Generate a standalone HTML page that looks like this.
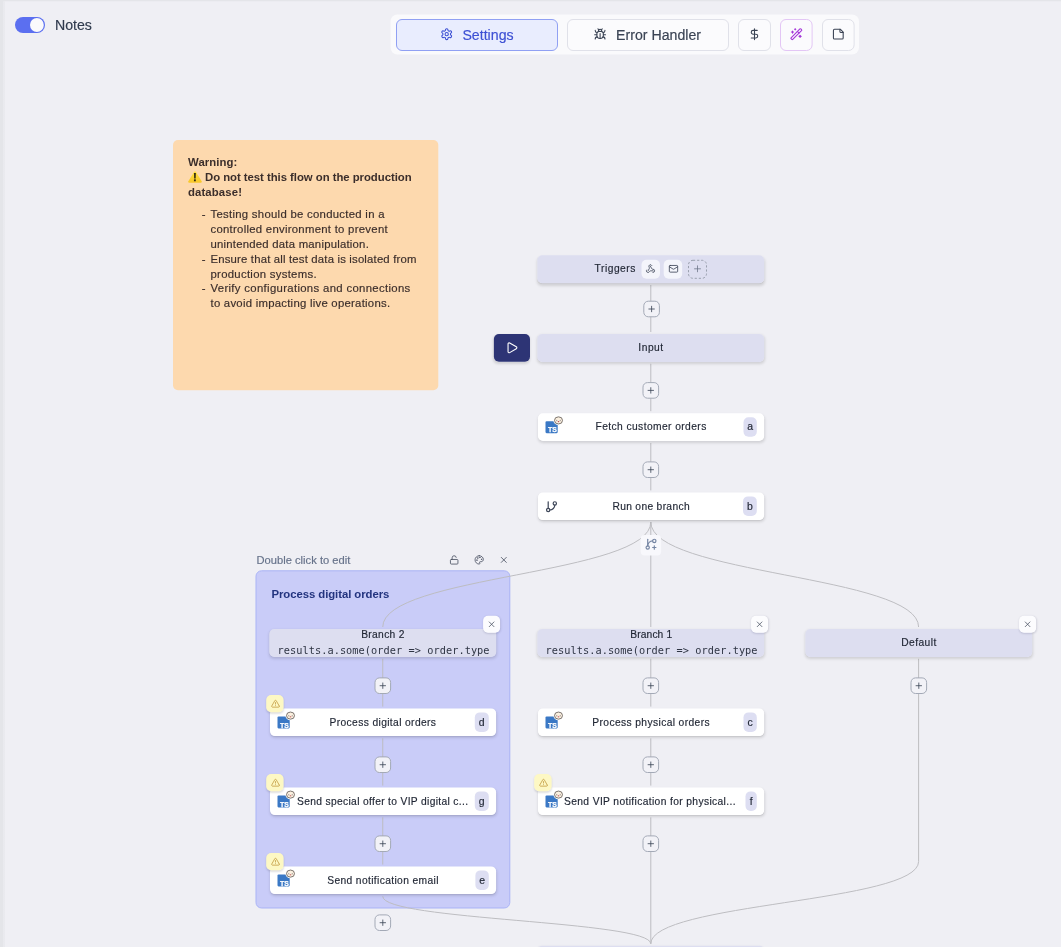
<!DOCTYPE html>
<html lang="en">
<head>
<meta charset="utf-8">
<title>Flow editor</title>
<style>
*{box-sizing:border-box;margin:0;padding:0}
html,body{width:1061px;height:947px;overflow:hidden}
body{background:#efeff4;font-family:"Liberation Sans",sans-serif;color:#1f2533;position:relative}
#wrap{position:absolute;left:0;top:0;width:1061px;height:947px;overflow:hidden;will-change:transform}
#app{position:absolute;left:0;top:0;transform:scale(.1);transform-origin:0 0}

#app{width:10610px;height:9470px}
.abs{position:absolute}
svg{display:block;overflow:visible}
.ic{fill:none;stroke:currentColor;stroke-linecap:round;stroke-linejoin:round}
.t{position:absolute;white-space:pre;-webkit-text-stroke:1.7px currentColor}
.edge-top{left:0;top:0;width:10610px;height:20px;background:linear-gradient(to bottom,#e4e5e9 0,#e4e5e9 50%,rgba(228,229,233,.35) 60%,rgba(228,229,233,0) 100%)}
.edge-left{left:0;top:0;width:50px;height:9470px;background:linear-gradient(to right,#e4e5e9 0,#e4e5e9 52%,rgba(228,229,233,.5) 60%,rgba(228,229,233,.4) 92%,rgba(228,229,233,0) 100%)}
.toggle{left:150px;top:170px;width:300px;height:160px;border-radius:80px;background:#5b6ff0}
.toggle i{position:absolute;right:12px;top:11px;width:138px;height:138px;border-radius:50%;background:#fafafc}
.tb{left:3905px;top:145px;width:4685px;height:400px;background:#fafafc;border-radius:70px}
.btn{position:absolute;top:190px;height:320px;border-radius:60px;border:10px solid #e0e1e9;background:#fbfbfd;color:#3a4354}
.btn.sel{background:#e9edfe;border-color:#90a0f3;color:#3d50d4}
.note{left:1730px;top:1400px;width:2653px;height:2503px;border-radius:50px;background:#fdd9ae}
.group{left:2555px;top:5703px;width:2548px;height:3382px;border-radius:60px;background:#c9ccf8;border:10px solid #a9b3f6}
.node{position:absolute;width:2269px;height:280px;border-radius:50px;background:#fff;box-shadow:0 18px 30px rgba(0,0,0,.13),0 5px 10px -5px rgba(0,0,0,.06)}
.node.lav{background:#dddef0}
.badge{position:absolute;width:134px;height:196px;border-radius:50px;background:#dddef2}
.plus{position:absolute;width:166px;height:166px;border-radius:50px;border:10px solid #a3a9b6;background:#f2f2f7;color:#4a5263}
.xbtn{position:absolute;width:170px;height:170px;border-radius:50px;background:#fcfcfe;color:#4a5263;box-shadow:0 10px 20px rgba(40,40,80,.15)}
.warn{position:absolute;width:174px;height:172px;border-radius:50px;background:#fdf8c4;color:#c59f45;box-shadow:0 10px 20px rgba(0,0,0,.12)}
.tbtn{position:absolute;width:185px;height:190px;border-radius:50px;background:#f4f5fb;color:#3c4557}
.play{left:4939px;top:3340px;width:361px;height:278px;border-radius:50px;background:#2d3475;color:#fff;box-shadow:0 13px 26px rgba(0,0,0,.13)}
</style>
</head>
<body>
<div id="wrap">
<div id="app">
<div class="abs edge-left"></div>
<div class="abs edge-top"></div>

<header class="topbar">
<div class="abs toggle"><i></i></div>
<div class="t" style="left:549px;top:160.5px;font-size:142px;line-height:184.6px;letter-spacing:-0.16px;color:#2f3a4d;">Notes</div>
<div class="abs tb"></div>
<div class="btn sel" style="left:3960px;width:1620px"></div>
<div class="btn" style="left:5670px;width:1620px"></div>
<div class="btn" style="left:7380px;width:330px"></div>
<div class="btn" style="left:7800px;width:326px;border-color:#e3c6f5"></div>
<div class="btn" style="left:8220px;width:326px"></div>
<svg class="ic abs" style="left:4402px;top:277px;width:130px;height:130px;color:#3d50d4;" viewBox="0 0 24 24" stroke-width="2"><path d="M12.22 2h-.44a2 2 0 0 0-2 2v.18a2 2 0 0 1-1 1.73l-.43.25a2 2 0 0 1-2 0l-.15-.08a2 2 0 0 0-2.73.73l-.22.38a2 2 0 0 0 .73 2.73l.15.1a2 2 0 0 1 1 1.72v.51a2 2 0 0 1-1 1.74l-.15.09a2 2 0 0 0-.73 2.73l.22.38a2 2 0 0 0 2.73.73l.15-.08a2 2 0 0 1 2 0l.43.25a2 2 0 0 1 1 1.73V20a2 2 0 0 0 2 2h.44a2 2 0 0 0 2-2v-.18a2 2 0 0 1 1-1.73l.43-.25a2 2 0 0 1 2 0l.15.08a2 2 0 0 0 2.73-.73l.22-.39a2 2 0 0 0-.73-2.73l-.15-.08a2 2 0 0 1-1-1.74v-.5a2 2 0 0 1 1-1.74l.15-.09a2 2 0 0 0 .73-2.73l-.22-.38a2 2 0 0 0-2.73-.73l-.15.08a2 2 0 0 1-2 0l-.43-.25a2 2 0 0 1-1-1.73V4a2 2 0 0 0-2-2z"/><circle cx="12" cy="12" r="3"/></svg>
<div class="t" style="left:4624px;top:257.5px;font-size:142px;line-height:184.6px;letter-spacing:-0.09px;color:#3d50d4;">Settings</div>
<svg class="ic abs" style="left:5936px;top:277px;width:130px;height:130px;color:#3a4354;" viewBox="0 0 24 24" stroke-width="2"><path d="m8 2 1.88 1.88"/><path d="M14.12 3.88 16 2"/><path d="M9 7.13v-1a3.003 3.003 0 1 1 6 0v1"/><path d="M12 20c-3.3 0-6-2.7-6-6v-3a4 4 0 0 1 4-4h4a4 4 0 0 1 4 4v3c0 3.3-2.7 6-6 6"/><path d="M12 20v-9"/><path d="M6.53 9C4.6 8.8 3 7.1 3 5"/><path d="M6 13H2"/><path d="M3 21c0-2.1 1.7-3.9 3.8-4"/><path d="M20.97 5c0 2.1-1.6 3.8-3.5 4"/><path d="M22 13h-4"/><path d="M17.2 17c2.1.1 3.8 1.9 3.8 4"/></svg>
<div class="t" style="left:6161px;top:257.5px;font-size:142px;line-height:184.6px;letter-spacing:-0.21px;color:#3a4354;">Error Handler</div>
<svg class="ic abs" style="left:7480px;top:277px;width:130px;height:130px;color:#3a4354;" viewBox="0 0 24 24" stroke-width="2"><line x1="12" x2="12" y1="2" y2="22"/><path d="M17 5H9.5a3.5 3.5 0 0 0 0 7h5a3.5 3.5 0 0 1 0 7H6"/></svg>
<svg class="ic abs" style="left:7898px;top:277px;width:130px;height:130px;color:#a437d8;" viewBox="0 0 24 24" stroke-width="2"><path d="m21.64 3.64-1.28-1.28a1.21 1.21 0 0 0-1.72 0L2.36 18.64a1.21 1.21 0 0 0 0 1.72l1.28 1.28a1.2 1.2 0 0 0 1.72 0L21.64 5.36a1.2 1.2 0 0 0 0-1.72"/><path d="m14 7 3 3"/><path d="M5 6v4"/><path d="M19 14v4"/><path d="M10 2v2"/><path d="M7 8H3"/><path d="M21 16h-4"/><path d="M11 3H9"/></svg>
<svg class="ic abs" style="left:8318px;top:277px;width:130px;height:130px;color:#3a4354;" viewBox="0 0 24 24" stroke-width="2"><path d="M16 3H5a2 2 0 0 0-2 2v14a2 2 0 0 0 2 2h14a2 2 0 0 0 2-2V8Z"/><path d="M15 3v4a2 2 0 0 0 2 2h4"/></svg>
</header>
<aside class="sticky-note">
<div class="abs note"></div>
<div class="t" style="left:1880px;top:1548.4px;font-size:114px;line-height:148.2px;letter-spacing:0.52px;color:#3b2e2b;font-weight:700;-webkit-text-stroke:0;">Warning:</div>
<svg class="abs" style="left:1879px;top:1711px;width:142px;height:119px" viewBox="0 0 14.2 11.9" role="img" aria-label="warning"><defs><linearGradient id="wg" x1="0" y1="0" x2="0" y2="1"><stop offset="0" stop-color="#fde23f"/><stop offset="1" stop-color="#f8c62a"/></linearGradient></defs><path d="M6.3 .75a.95.95 0 0 1 1.600 0l5.900 9.500a.950.950 0 0 1-.800 1.450H1.200a.950.950 0 0 1-.800-1.450z" fill="url(#wg)"/><text x="7.100" y="10.250" font-family="Liberation Sans, sans-serif" font-weight="700" font-size="11.400" text-anchor="middle" fill="#2a2410" stroke="#2a2410" stroke-width=".250">!</text></svg>
<div class="t" style="left:2050px;top:1699.4px;font-size:114px;line-height:148.2px;letter-spacing:-0.61px;color:#3b2e2b;font-weight:700;-webkit-text-stroke:0;">Do not test this flow on the production</div>
<div class="t" style="left:1880px;top:1848.4px;font-size:114px;line-height:148.2px;letter-spacing:0.89px;color:#3b2e2b;font-weight:700;-webkit-text-stroke:0;">database!</div>
<div class="t" style="left:2018px;top:2070.4px;font-size:114px;line-height:148.2px;letter-spacing:0px;color:#3b2e2b;">-</div>
<div class="t" style="left:2105px;top:2070.4px;font-size:114px;line-height:148.2px;letter-spacing:2.57px;color:#3b2e2b;">Testing should be conducted in a</div>
<div class="t" style="left:2105px;top:2218.4px;font-size:114px;line-height:148.2px;letter-spacing:2.48px;color:#3b2e2b;">controlled environment to prevent</div>
<div class="t" style="left:2105px;top:2366.4px;font-size:114px;line-height:148.2px;letter-spacing:1.99px;color:#3b2e2b;">unintended data manipulation.</div>
<div class="t" style="left:2018px;top:2519.4px;font-size:114px;line-height:148.2px;letter-spacing:0px;color:#3b2e2b;">-</div>
<div class="t" style="left:2105px;top:2519.4px;font-size:114px;line-height:148.2px;letter-spacing:1.55px;color:#3b2e2b;">Ensure that all test data is isolated from</div>
<div class="t" style="left:2105px;top:2668.4px;font-size:114px;line-height:148.2px;letter-spacing:2.61px;color:#3b2e2b;">production systems.</div>
<div class="t" style="left:2018px;top:2808.4px;font-size:114px;line-height:148.2px;letter-spacing:0px;color:#3b2e2b;">-</div>
<div class="t" style="left:2105px;top:2808.4px;font-size:114px;line-height:148.2px;letter-spacing:3.03px;color:#3b2e2b;">Verify configurations and connections</div>
<div class="t" style="left:2105px;top:2960.4px;font-size:114px;line-height:148.2px;letter-spacing:2.3px;color:#3b2e2b;">to avoid impacting live operations.</div>
</aside>
<main class="flow">
<div class="abs group"></div>
<div class="t" style="left:2564px;top:5525.4px;font-size:112px;line-height:145.6px;letter-spacing:-0px;color:#66728a;">Double click to edit</div>
<svg class="ic abs" style="left:4492px;top:5549px;width:100px;height:100px;color:#4a5263;" viewBox="0 0 24 24" stroke-width="2"><rect width="18" height="11" x="3" y="11" rx="2" ry="2"/><path d="M7 11V7a5 5 0 0 1 9.9-1"/></svg>
<svg class="ic abs" style="left:4742px;top:5549px;width:100px;height:100px;color:#4a5263;" viewBox="0 0 24 24" stroke-width="2"><circle cx="13.5" cy="6.5" r=".5" fill="currentColor"/><circle cx="17.5" cy="10.5" r=".5" fill="currentColor"/><circle cx="8.5" cy="7.5" r=".5" fill="currentColor"/><circle cx="6.5" cy="12.5" r=".5" fill="currentColor"/><path d="M12 2C6.5 2 2 6.5 2 12s4.500 10 10 10c.926 0 1.648-.746 1.648-1.688 0-.437-.18-.835-.437-1.125-.29-.289-.438-.652-.438-1.125a1.640 1.640 0 0 1 1.668-1.668h1.996c3.051 0 5.555-2.503 5.555-5.554C21.965 6.012 17.461 2 12 2z"/></svg>
<svg class="ic abs" style="left:4988px;top:5549px;width:100px;height:100px;color:#4a5263;" viewBox="0 0 24 24" stroke-width="2"><path d="M18 6 6 18"/><path d="m6 6 12 12"/></svg>
<div class="t" style="left:2714px;top:5866.4px;font-size:114px;line-height:148.2px;letter-spacing:-0.84px;color:#23347f;font-weight:700;-webkit-text-stroke:0;">Process digital orders</div>
<svg class="abs" style="left:0;top:0;width:10610px;height:9470px" viewBox="0 0 1061 947" fill="none" stroke="#bdbdc1" stroke-width="1">
<path d="M650.8 285V332"/><path d="M650.8 363.8V411.2"/><path d="M650.8 443V490.4"/><path d="M650.8 522.2V627"/><path d="M650.8 658.8V706.6"/><path d="M650.8 738.4V785.6"/><path d="M650.8 817.4V943.8"/><path d="M382.75 658.8V706.6"/><path d="M382.75 738.4V785.6"/><path d="M382.75 817.4V864.6"/>
<path d="M650.8 522C650.8 575 382.75 575 382.75 627"/>
<path d="M650.8 522C650.8 575 918.6 575 918.6 627"/>
<path d="M382.75 896.400C382.75 920.500 650.8 920.500 650.8 943.800"/>
<path d="M918.6 658.800V861.500C918.6 902.650 650.8 902.650 650.8 943.800"/>
</svg>
<div class="node lav" style="left:5373px;top:2552px"></div>
<div class="t" style="left:5946px;top:2621.9px;font-size:103px;line-height:133.9px;letter-spacing:4.87px;color:#1f2533;">Triggers</div>
<div class="tbtn" style="left:6415px;top:2598px"></div>
<svg class="ic abs" style="left:6456px;top:2639px;width:98px;height:98px;color:#3c4557;" viewBox="0 0 24 24" stroke-width="2"><path d="M18 16.980h-5.990c-1.100 0-1.950.940-2.480 1.900A4 4 0 0 1 2 17c.010-.700.200-1.400.570-2"/><path d="m6 17 3.130-5.780c.530-.970.100-2.180-.500-3.100a4 4 0 1 1 6.890-4.060"/><path d="m12 6 3.130 5.730C15.660 12.700 16.900 13 18 13a4 4 0 0 1 0 8"/></svg>
<div class="tbtn" style="left:6637px;top:2598px"></div>
<svg class="ic abs" style="left:6685px;top:2638px;width:100px;height:100px;color:#3c4557;" viewBox="0 0 24 24" stroke-width="2"><rect width="20" height="16" x="2" y="4" rx="2"/><path d="m22 7-8.970 5.700a1.940 1.940 0 0 1-2.060 0L2 7"/></svg>
<svg class="abs" style="left:6880px;top:2598px;width:190px;height:190px" viewBox="0 0 19 19"><rect x=".5" y=".5" width="18" height="18" rx="4.500" fill="none" stroke="#9aa0ae" stroke-width="1" stroke-dasharray="2.200 1.900"/></svg>
<svg class="ic abs" style="left:6923.5px;top:2637px;width:102px;height:102px;color:#6b7385;" viewBox="0 0 24 24" stroke-width="1.8"><path d="M5 12h14"/><path d="M12 5v14"/></svg>
<div class="plus" style="left:6432.5px;top:3007px"></div>
<svg class="ic abs" style="left:6468.5px;top:3043px;width:94px;height:94px;color:#3c4557;" viewBox="0 0 24 24" stroke-width="2.1"><path d="M5 12h14"/><path d="M12 5v14"/></svg>
<div class="abs play"></div>
<svg class="ic abs" style="left:5053px;top:3412px;width:132px;height:132px;color:#fff;" viewBox="0 0 24 24" stroke-width="2"><path d="M5 5a2 2 0 0 1 3.008-1.728l11.997 6.998a2 2 0 0 1 .003 3.458l-12 7A2 2 0 0 1 5 19z"/></svg>
<div class="node lav" style="left:5373px;top:3340px"></div>
<div class="t" style="left:6383px;top:3410.9px;font-size:103px;line-height:133.9px;letter-spacing:4.98px;color:#1f2533;">Input</div>
<div class="plus" style="left:6424.5px;top:3821px"></div>
<svg class="ic abs" style="left:6460.5px;top:3857px;width:94px;height:94px;color:#3c4557;" viewBox="0 0 24 24" stroke-width="2.1"><path d="M5 12h14"/><path d="M12 5v14"/></svg>
<div class="node" style="left:5380px;top:4132px;width:2261px;height:277px"></div>
<svg class="abs" style="left:5454.5px;top:4163px;width:180px;height:172px" viewBox="0 0 18 17.2">
<rect x="0" y="5" width="12.200" height="11.900" rx="1.100" fill="#3a78c5"/>
<text x="2.400" y="16.050" font-family="Liberation Sans, sans-serif" font-weight="700" font-size="7.700" fill="#fff" stroke="#fff" stroke-width=".250" textLength="8.900" lengthAdjust="spacingAndGlyphs">TS</text>
<ellipse cx="13" cy="4.100" rx="5.100" ry="4.700" fill="#fff"/>
<ellipse cx="13" cy="4.100" rx="4" ry="3.550" fill="#fbf0df" stroke="#5e5753" stroke-width=".800"/>
<ellipse cx="11.200" cy="4.200" rx=".700" ry=".800" fill="#a9a2a0"/>
<ellipse cx="14.800" cy="4.200" rx=".700" ry=".800" fill="#a9a2a0"/>
<path d="M12.200 5h1.600a.800.850 0 0 1-1.600 0z" fill="#a81c2a"/>
</svg>
<div class="t" style="left:5955px;top:4200.9px;font-size:103px;line-height:133.9px;letter-spacing:3.89px;color:#1f2533;">Fetch customer orders</div>
<div class="badge" style="left:7434.5px;top:4172px;width:133px"></div>
<div class="t" style="left:7471.8px;top:4198.9px;font-size:105px;line-height:136.5px;letter-spacing:0px;color:#1f2533;">a</div>
<div class="plus" style="left:6424.5px;top:4614px"></div>
<svg class="ic abs" style="left:6460.5px;top:4650px;width:94px;height:94px;color:#3c4557;" viewBox="0 0 24 24" stroke-width="2.1"><path d="M5 12h14"/><path d="M12 5v14"/></svg>
<div class="node" style="left:5380px;top:4924px;width:2261px;height:277px"></div>
<svg class="ic abs" style="left:5449px;top:5001px;width:132px;height:132px;color:#3c4557;" viewBox="0 0 24 24" stroke-width="2.2"><line x1="6" x2="6" y1="3" y2="15"/><circle cx="18" cy="6" r="3"/><circle cx="6" cy="18" r="3"/><path d="M18 9a9 9 0 0 1-9 9"/></svg>
<div class="t" style="left:6124px;top:5001.9px;font-size:103px;line-height:133.9px;letter-spacing:3.01px;color:#1f2533;">Run one branch</div>
<div class="badge" style="left:7429.5px;top:4964px;width:138px"></div>
<div class="t" style="left:7469.3px;top:4999.9px;font-size:105px;line-height:136.5px;letter-spacing:0px;color:#1f2533;">b</div>
<div class="abs" style="left:6407px;top:5350px;width:204px;height:204px;border-radius:40px;background:#f8f8fc"></div>
<svg class="ic abs" style="left:6444px;top:5376px;width:132px;height:132px;color:#7585a3;" viewBox="0 0 24 24" stroke-width="2.1"><path d="M6 3v12"/><path d="M18 9a3 3 0 1 0 0-6 3 3 0 0 0 0 6z"/><path d="M6 21a3 3 0 1 0 0-6 3 3 0 0 0 0 6z"/><path d="M15 6a9 9 0 0 0-9 9"/><path d="M18 15v6"/><path d="M21 18h-6"/></svg>
<div class="node lav" style="left:2693px;top:6290px"></div>
<div class="t" style="left:3612px;top:6274.4px;font-size:103px;line-height:133.9px;letter-spacing:2.97px;color:#1f2533;">Branch 2</div>
<div class="t" style="left:2775px;top:6439.4px;font-size:103px;line-height:133.9px;letter-spacing:0.37px;color:#2e3443;font-family:'DejaVu Sans Mono','Liberation Mono',monospace;-webkit-text-stroke:0;">results.a.some(order =&gt; order.type</div>
<div class="xbtn" style="left:4831px;top:6158px"></div>
<svg class="ic abs" style="left:4869px;top:6196px;width:94px;height:94px;color:#4a5263;" viewBox="0 0 24 24" stroke-width="2"><path d="M18 6 6 18"/><path d="m6 6 12 12"/></svg>
<div class="node lav" style="left:5373px;top:6290px"></div>
<div class="t" style="left:6303px;top:6274.4px;font-size:103px;line-height:133.9px;letter-spacing:0.83px;color:#1f2533;">Branch 1</div>
<div class="t" style="left:5455px;top:6439.4px;font-size:103px;line-height:133.9px;letter-spacing:0.37px;color:#2e3443;font-family:'DejaVu Sans Mono','Liberation Mono',monospace;-webkit-text-stroke:0;">results.a.some(order =&gt; order.type</div>
<div class="xbtn" style="left:7511px;top:6158px"></div>
<svg class="ic abs" style="left:7549px;top:6196px;width:94px;height:94px;color:#4a5263;" viewBox="0 0 24 24" stroke-width="2"><path d="M18 6 6 18"/><path d="m6 6 12 12"/></svg>
<div class="node lav" style="left:8053px;top:6290px"></div>
<div class="t" style="left:9012px;top:6359.4px;font-size:103px;line-height:133.9px;letter-spacing:4.1px;color:#1f2533;">Default</div>
<div class="xbtn" style="left:10191px;top:6158px"></div>
<svg class="ic abs" style="left:10229px;top:6196px;width:94px;height:94px;color:#4a5263;" viewBox="0 0 24 24" stroke-width="2"><path d="M18 6 6 18"/><path d="m6 6 12 12"/></svg>
<div class="plus" style="left:3744.5px;top:6774px"></div>
<svg class="ic abs" style="left:3780.5px;top:6810px;width:94px;height:94px;color:#3c4557;" viewBox="0 0 24 24" stroke-width="2.1"><path d="M5 12h14"/><path d="M12 5v14"/></svg>
<div class="plus" style="left:6424.5px;top:6774px"></div>
<svg class="ic abs" style="left:6460.5px;top:6810px;width:94px;height:94px;color:#3c4557;" viewBox="0 0 24 24" stroke-width="2.1"><path d="M5 12h14"/><path d="M12 5v14"/></svg>
<div class="plus" style="left:9104.5px;top:6774px"></div>
<svg class="ic abs" style="left:9140.5px;top:6810px;width:94px;height:94px;color:#3c4557;" viewBox="0 0 24 24" stroke-width="2.1"><path d="M5 12h14"/><path d="M12 5v14"/></svg>
<div class="node" style="left:2700px;top:7084px;width:2261px;height:277px"></div>
<div class="warn" style="left:2662px;top:6950px"></div>
<svg class="ic abs" style="left:2708.5px;top:6991px;width:92px;height:92px;color:#c59f45;" viewBox="0 0 24 24" stroke-width="2.2"><path d="m21.730 18-8-14a2 2 0 0 0-3.480 0l-8 14A2 2 0 0 0 4 21h16a2 2 0 0 0 1.730-3"/><path d="M12 9v4"/><path d="M12 17h.01"/></svg>
<svg class="abs" style="left:2774.5px;top:7115px;width:180px;height:172px" viewBox="0 0 18 17.2">
<rect x="0" y="5" width="12.200" height="11.900" rx="1.100" fill="#3a78c5"/>
<text x="2.400" y="16.050" font-family="Liberation Sans, sans-serif" font-weight="700" font-size="7.700" fill="#fff" stroke="#fff" stroke-width=".250" textLength="8.900" lengthAdjust="spacingAndGlyphs">TS</text>
<ellipse cx="13" cy="4.100" rx="5.100" ry="4.700" fill="#fff"/>
<ellipse cx="13" cy="4.100" rx="4" ry="3.550" fill="#fbf0df" stroke="#5e5753" stroke-width=".800"/>
<ellipse cx="11.200" cy="4.200" rx=".700" ry=".800" fill="#a9a2a0"/>
<ellipse cx="14.800" cy="4.200" rx=".700" ry=".800" fill="#a9a2a0"/>
<path d="M12.200 5h1.600a.800.850 0 0 1-1.600 0z" fill="#a81c2a"/>
</svg>
<div class="t" style="left:3295px;top:7156.9px;font-size:103px;line-height:133.9px;letter-spacing:3.56px;color:#1f2533;">Process digital orders</div>
<div class="badge" style="left:4747.5px;top:7124px;width:140px"></div>
<div class="t" style="left:4788.3px;top:7154.9px;font-size:105px;line-height:136.5px;letter-spacing:0px;color:#1f2533;">d</div>
<div class="node" style="left:5380px;top:7084px;width:2261px;height:277px"></div>
<svg class="abs" style="left:5454.5px;top:7115px;width:180px;height:172px" viewBox="0 0 18 17.2">
<rect x="0" y="5" width="12.200" height="11.900" rx="1.100" fill="#3a78c5"/>
<text x="2.400" y="16.050" font-family="Liberation Sans, sans-serif" font-weight="700" font-size="7.700" fill="#fff" stroke="#fff" stroke-width=".250" textLength="8.900" lengthAdjust="spacingAndGlyphs">TS</text>
<ellipse cx="13" cy="4.100" rx="5.100" ry="4.700" fill="#fff"/>
<ellipse cx="13" cy="4.100" rx="4" ry="3.550" fill="#fbf0df" stroke="#5e5753" stroke-width=".800"/>
<ellipse cx="11.200" cy="4.200" rx=".700" ry=".800" fill="#a9a2a0"/>
<ellipse cx="14.800" cy="4.200" rx=".700" ry=".800" fill="#a9a2a0"/>
<path d="M12.200 5h1.600a.800.850 0 0 1-1.600 0z" fill="#a81c2a"/>
</svg>
<div class="t" style="left:5923px;top:7156.9px;font-size:103px;line-height:133.9px;letter-spacing:3.63px;color:#1f2533;">Process physical orders</div>
<div class="badge" style="left:7434.5px;top:7124px;width:133px"></div>
<div class="t" style="left:7474.8px;top:7154.9px;font-size:105px;line-height:136.5px;letter-spacing:0px;color:#1f2533;">c</div>
<div class="plus" style="left:3744.5px;top:7564px"></div>
<svg class="ic abs" style="left:3780.5px;top:7600px;width:94px;height:94px;color:#3c4557;" viewBox="0 0 24 24" stroke-width="2.1"><path d="M5 12h14"/><path d="M12 5v14"/></svg>
<div class="plus" style="left:6424.5px;top:7564px"></div>
<svg class="ic abs" style="left:6460.5px;top:7600px;width:94px;height:94px;color:#3c4557;" viewBox="0 0 24 24" stroke-width="2.1"><path d="M5 12h14"/><path d="M12 5v14"/></svg>
<div class="node" style="left:2700px;top:7874px;width:2261px;height:277px"></div>
<div class="warn" style="left:2662px;top:7740px"></div>
<svg class="ic abs" style="left:2708.5px;top:7781px;width:92px;height:92px;color:#c59f45;" viewBox="0 0 24 24" stroke-width="2.2"><path d="m21.730 18-8-14a2 2 0 0 0-3.480 0l-8 14A2 2 0 0 0 4 21h16a2 2 0 0 0 1.730-3"/><path d="M12 9v4"/><path d="M12 17h.01"/></svg>
<svg class="abs" style="left:2774.5px;top:7905px;width:180px;height:172px" viewBox="0 0 18 17.2">
<rect x="0" y="5" width="12.200" height="11.900" rx="1.100" fill="#3a78c5"/>
<text x="2.400" y="16.050" font-family="Liberation Sans, sans-serif" font-weight="700" font-size="7.700" fill="#fff" stroke="#fff" stroke-width=".250" textLength="8.900" lengthAdjust="spacingAndGlyphs">TS</text>
<ellipse cx="13" cy="4.100" rx="5.100" ry="4.700" fill="#fff"/>
<ellipse cx="13" cy="4.100" rx="4" ry="3.550" fill="#fbf0df" stroke="#5e5753" stroke-width=".800"/>
<ellipse cx="11.200" cy="4.200" rx=".700" ry=".800" fill="#a9a2a0"/>
<ellipse cx="14.800" cy="4.200" rx=".700" ry=".800" fill="#a9a2a0"/>
<path d="M12.200 5h1.600a.800.850 0 0 1-1.600 0z" fill="#a81c2a"/>
</svg>
<div class="t" style="left:2970px;top:7946.9px;font-size:103px;line-height:133.9px;letter-spacing:3.15px;color:#1f2533;">Send special offer to VIP digital c...</div>
<div class="badge" style="left:4747.5px;top:7914px;width:140px"></div>
<div class="t" style="left:4788.3px;top:7944.9px;font-size:105px;line-height:136.5px;letter-spacing:0px;color:#1f2533;">g</div>
<div class="node" style="left:5380px;top:7874px;width:2261px;height:277px"></div>
<div class="warn" style="left:5342px;top:7740px"></div>
<svg class="ic abs" style="left:5388.5px;top:7781px;width:92px;height:92px;color:#c59f45;" viewBox="0 0 24 24" stroke-width="2.2"><path d="m21.730 18-8-14a2 2 0 0 0-3.480 0l-8 14A2 2 0 0 0 4 21h16a2 2 0 0 0 1.730-3"/><path d="M12 9v4"/><path d="M12 17h.01"/></svg>
<svg class="abs" style="left:5454.5px;top:7905px;width:180px;height:172px" viewBox="0 0 18 17.2">
<rect x="0" y="5" width="12.200" height="11.900" rx="1.100" fill="#3a78c5"/>
<text x="2.400" y="16.050" font-family="Liberation Sans, sans-serif" font-weight="700" font-size="7.700" fill="#fff" stroke="#fff" stroke-width=".250" textLength="8.900" lengthAdjust="spacingAndGlyphs">TS</text>
<ellipse cx="13" cy="4.100" rx="5.100" ry="4.700" fill="#fff"/>
<ellipse cx="13" cy="4.100" rx="4" ry="3.550" fill="#fbf0df" stroke="#5e5753" stroke-width=".800"/>
<ellipse cx="11.200" cy="4.200" rx=".700" ry=".800" fill="#a9a2a0"/>
<ellipse cx="14.800" cy="4.200" rx=".700" ry=".800" fill="#a9a2a0"/>
<path d="M12.200 5h1.600a.800.850 0 0 1-1.600 0z" fill="#a81c2a"/>
</svg>
<div class="t" style="left:5640px;top:7946.9px;font-size:103px;line-height:133.9px;letter-spacing:3.49px;color:#1f2533;">Send VIP notification for physical...</div>
<div class="badge" style="left:7454.5px;top:7914px;width:113px"></div>
<div class="t" style="left:7496.4px;top:7944.9px;font-size:105px;line-height:136.5px;letter-spacing:0px;color:#1f2533;">f</div>
<div class="plus" style="left:3744.5px;top:8354px"></div>
<svg class="ic abs" style="left:3780.5px;top:8390px;width:94px;height:94px;color:#3c4557;" viewBox="0 0 24 24" stroke-width="2.1"><path d="M5 12h14"/><path d="M12 5v14"/></svg>
<div class="plus" style="left:6424.5px;top:8354px"></div>
<svg class="ic abs" style="left:6460.5px;top:8390px;width:94px;height:94px;color:#3c4557;" viewBox="0 0 24 24" stroke-width="2.1"><path d="M5 12h14"/><path d="M12 5v14"/></svg>
<div class="node" style="left:2700px;top:8664px;width:2261px;height:277px"></div>
<div class="warn" style="left:2662px;top:8530px"></div>
<svg class="ic abs" style="left:2708.5px;top:8571px;width:92px;height:92px;color:#c59f45;" viewBox="0 0 24 24" stroke-width="2.2"><path d="m21.730 18-8-14a2 2 0 0 0-3.480 0l-8 14A2 2 0 0 0 4 21h16a2 2 0 0 0 1.730-3"/><path d="M12 9v4"/><path d="M12 17h.01"/></svg>
<svg class="abs" style="left:2774.5px;top:8695px;width:180px;height:172px" viewBox="0 0 18 17.2">
<rect x="0" y="5" width="12.200" height="11.900" rx="1.100" fill="#3a78c5"/>
<text x="2.400" y="16.050" font-family="Liberation Sans, sans-serif" font-weight="700" font-size="7.700" fill="#fff" stroke="#fff" stroke-width=".250" textLength="8.900" lengthAdjust="spacingAndGlyphs">TS</text>
<ellipse cx="13" cy="4.100" rx="5.100" ry="4.700" fill="#fff"/>
<ellipse cx="13" cy="4.100" rx="4" ry="3.550" fill="#fbf0df" stroke="#5e5753" stroke-width=".800"/>
<ellipse cx="11.200" cy="4.200" rx=".700" ry=".800" fill="#a9a2a0"/>
<ellipse cx="14.800" cy="4.200" rx=".700" ry=".800" fill="#a9a2a0"/>
<path d="M12.200 5h1.600a.800.850 0 0 1-1.600 0z" fill="#a81c2a"/>
</svg>
<div class="t" style="left:3272px;top:8736.9px;font-size:103px;line-height:133.9px;letter-spacing:3.45px;color:#1f2533;">Send notification email</div>
<div class="badge" style="left:4753.5px;top:8704px;width:134px"></div>
<div class="t" style="left:4791.3px;top:8734.9px;font-size:105px;line-height:136.5px;letter-spacing:0px;color:#1f2533;">e</div>
<div class="plus" style="left:3744.5px;top:9144px"></div>
<svg class="ic abs" style="left:3780.5px;top:9180px;width:94px;height:94px;color:#3c4557;" viewBox="0 0 24 24" stroke-width="2.1"><path d="M5 12h14"/><path d="M12 5v14"/></svg>
<div class="node lav" style="left:5373px;top:9457px"></div>
</main>
</div>
</div>
</body>
</html>
